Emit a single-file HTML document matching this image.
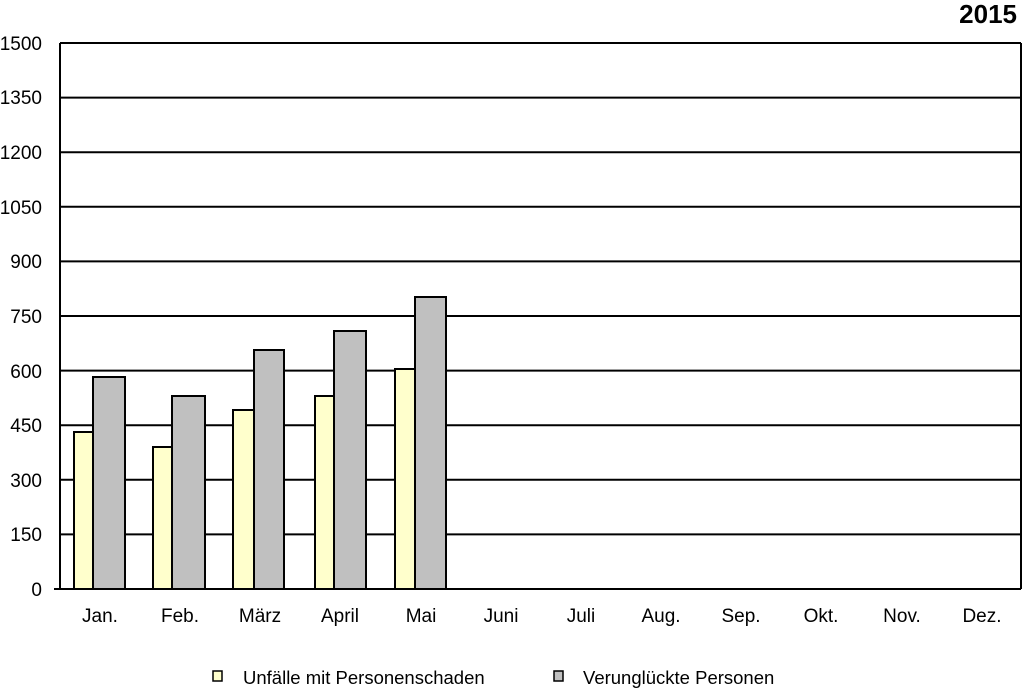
<!DOCTYPE html>
<html><head><style>body{margin:0;background:#fff}</style></head><body>
<svg width="1026" height="689" xmlns="http://www.w3.org/2000/svg" font-family="Liberation Sans, Arial, sans-serif">
<text x="1017" y="23" font-size="26" font-weight="bold" text-anchor="end">2015</text>
<g stroke="#000" stroke-width="2">
<line x1="60" y1="43" x2="1021" y2="43"/>
<line x1="60" y1="97.6" x2="1021" y2="97.6"/>
<line x1="60" y1="152.2" x2="1021" y2="152.2"/>
<line x1="60" y1="206.8" x2="1021" y2="206.8"/>
<line x1="60" y1="261.4" x2="1021" y2="261.4"/>
<line x1="60" y1="316" x2="1021" y2="316"/>
<line x1="60" y1="370.6" x2="1021" y2="370.6"/>
<line x1="60" y1="425.2" x2="1021" y2="425.2"/>
<line x1="60" y1="479.8" x2="1021" y2="479.8"/>
<line x1="60" y1="534.4" x2="1021" y2="534.4"/>
<line x1="54" y1="589" x2="1021" y2="589"/>
<line x1="60" y1="43" x2="60" y2="589"/>
<line x1="1021" y1="43" x2="1021" y2="589"/>
</g>
<g font-size="19" text-anchor="end">
<text x="42" y="50">1500</text><text x="42" y="104">1350</text><text x="42" y="159">1200</text>
<text x="42" y="214">1050</text><text x="42" y="268">900</text><text x="42" y="323">750</text>
<text x="42" y="378">600</text><text x="42" y="432">450</text><text x="42" y="487">300</text>
<text x="42" y="541">150</text><text x="42" y="596">0</text>
</g>
<g stroke="#000" stroke-width="2">
<rect x="74" y="432" width="32" height="157" fill="#ffffcc"/>
<rect x="93" y="377" width="32" height="212" fill="#c0c0c0"/>
<rect x="153" y="447" width="32" height="142" fill="#ffffcc"/>
<rect x="172" y="396" width="33" height="193" fill="#c0c0c0"/>
<rect x="233" y="410" width="32" height="179" fill="#ffffcc"/>
<rect x="254" y="350" width="30" height="239" fill="#c0c0c0"/>
<rect x="315" y="396" width="32" height="193" fill="#ffffcc"/>
<rect x="334" y="331" width="32" height="258" fill="#c0c0c0"/>
<rect x="395" y="369" width="32" height="220" fill="#ffffcc"/>
<rect x="415" y="297" width="31" height="292" fill="#c0c0c0"/>
</g>
<g font-size="19" text-anchor="middle">
<text x="100" y="622">Jan.</text><text x="180" y="622">Feb.</text><text x="260" y="622">März</text>
<text x="340" y="622">April</text><text x="421" y="622">Mai</text><text x="501" y="622">Juni</text>
<text x="581" y="622">Juli</text><text x="661" y="622">Aug.</text><text x="741" y="622">Sep.</text>
<text x="821" y="622">Okt.</text><text x="902" y="622">Nov.</text><text x="982" y="622">Dez.</text>
</g>
<rect x="213" y="671" width="9" height="10" fill="#ffffcc" stroke="#000" stroke-width="1.5"/>
<text x="243" y="684" font-size="18.5">Unfälle mit Personenschaden</text>
<rect x="554" y="671" width="9" height="10" fill="#c0c0c0" stroke="#000" stroke-width="1.5"/>
<text x="583" y="684" font-size="18.5">Verunglückte Personen</text>
</svg>
</body></html>
